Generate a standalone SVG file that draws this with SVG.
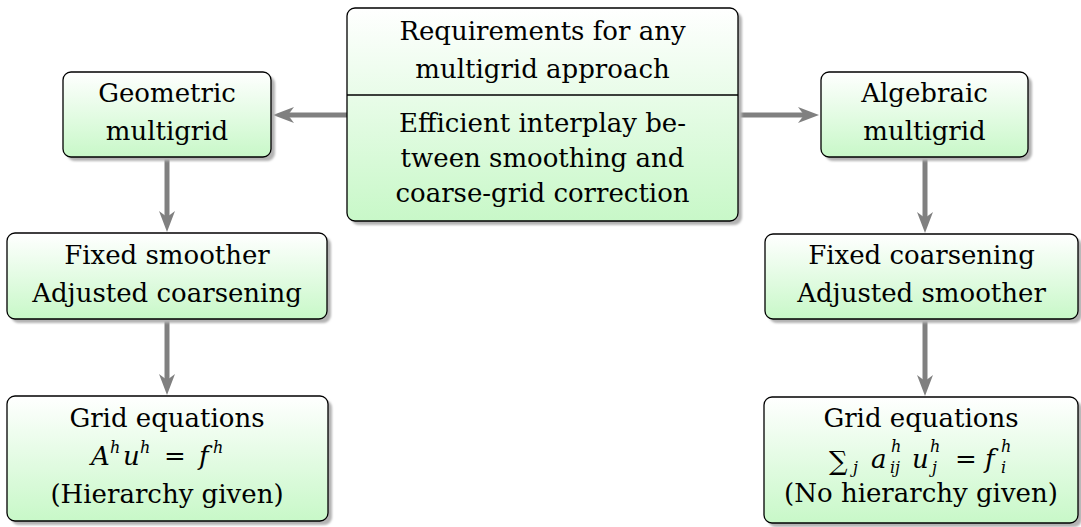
<svg xmlns="http://www.w3.org/2000/svg" width="1081" height="527" viewBox="0 0 1081 527">
<style>
.box{fill:url(#g);stroke:#000;stroke-width:1.3}
.sh{fill:#b3b3b3;filter:url(#blur)}
.t{font-family:"DejaVu Serif","Liberation Serif",serif;font-size:26px;fill:#000;text-anchor:middle}
.m{font-family:"DejaVu Serif","Liberation Serif",serif;font-size:26px;fill:#000;font-style:italic}
.s{font-size:16px}
.c{fill:none;stroke:#808080;stroke-width:5}
</style>
<defs>
<linearGradient id="g" x1="0" y1="0" x2="0" y2="1">
<stop offset="0" stop-color="#ffffff"/>
<stop offset="1" stop-color="#c8f8c8"/>
</linearGradient>
<filter id="blur" x="-10%" y="-10%" width="120%" height="120%"><feGaussianBlur stdDeviation="1"/></filter>
<marker id="ah" markerUnits="userSpaceOnUse" viewBox="-22 -9 24 18" markerWidth="24" markerHeight="18" refX="-15" refY="0" orient="auto">
<path d="M0,0 L-21,-8 L-15,0 L-21,8 Z" fill="#808080"/>
</marker>
</defs>

<g id="connectors">
<line class="c" x1="347" y1="115" x2="288" y2="115" marker-end="url(#ah)"/>
<line class="c" x1="738" y1="115" x2="804" y2="115" marker-end="url(#ah)"/>
<line class="c" x1="167" y1="157" x2="167" y2="217" marker-end="url(#ah)"/>
<line class="c" x1="167" y1="319" x2="167" y2="380" marker-end="url(#ah)"/>
<line class="c" x1="925" y1="157" x2="925" y2="218" marker-end="url(#ah)"/>
<line class="c" x1="925" y1="319" x2="925" y2="381" marker-end="url(#ah)"/>
</g>

<g id="requirements">
<rect class="sh" x="351" y="12" width="391" height="213" rx="8"/>
<rect class="box" x="347" y="8" width="391" height="213" rx="8"/>
<line x1="347" y1="95" x2="738" y2="95" stroke="#000" stroke-width="1.3"/>
<text class="t" x="542.5" y="40">Requirements for any</text>
<text class="t" x="542.5" y="78">multigrid approach</text>
<text class="t" x="542.5" y="132">Efficient interplay be-</text>
<text class="t" x="542.5" y="167">tween smoothing and</text>
<text class="t" x="542.5" y="202">coarse-grid correction</text>
</g>

<g id="geometric">
<rect class="sh" x="67" y="76" width="208" height="85" rx="8"/>
<rect class="box" x="63" y="72" width="208" height="85" rx="8"/>
<text class="t" x="167" y="102">Geometric</text>
<text class="t" x="167" y="140">multigrid</text>
</g>

<g id="algebraic">
<rect class="sh" x="825" y="76" width="207" height="85" rx="8"/>
<rect class="box" x="821" y="72" width="207" height="85" rx="8"/>
<text class="t" x="924.5" y="102">Algebraic</text>
<text class="t" x="924.5" y="140">multigrid</text>
</g>

<g id="fixed-smoother">
<rect class="sh" x="11" y="237" width="320" height="86" rx="8"/>
<rect class="box" x="7" y="233" width="320" height="86" rx="8"/>
<text class="t" x="167" y="264">Fixed smoother</text>
<text class="t" x="167" y="302">Adjusted coarsening</text>
</g>

<g id="fixed-coarsening">
<rect class="sh" x="769" y="238" width="313" height="85" rx="8"/>
<rect class="box" x="765" y="234" width="313" height="85" rx="8"/>
<text class="t" x="921.5" y="264">Fixed coarsening</text>
<text class="t" x="921.5" y="302">Adjusted smoother</text>
</g>

<g id="grid-geometric">
<rect class="sh" x="11" y="400" width="321" height="125" rx="8"/>
<rect class="box" x="7" y="396" width="321" height="125" rx="8"/>
<text class="t" x="167" y="427">Grid equations</text>
<text class="m" x="91" y="465">A</text>
<text class="m s" x="110" y="453">h</text>
<text class="m" x="123" y="465">u</text>
<text class="m s" x="140" y="453">h</text>
<text class="m" font-style="normal" x="164" y="465">=</text>
<text class="m" x="199" y="465">f</text>
<text class="m s" x="213" y="453">h</text>
<text class="t" x="167" y="503">(Hierarchy given)</text>
</g>

<g id="grid-algebraic">
<rect class="sh" x="768" y="401" width="314" height="126" rx="8"/>
<rect class="box" x="764" y="397" width="314" height="126" rx="8"/>
<text class="t" x="921" y="427">Grid equations</text>
<text class="m" font-style="normal" font-size="30" x="829" y="470">∑</text>
<text class="m s" x="853" y="473">j</text>
<text class="m" x="871" y="468">a</text>
<text class="m s" x="891" y="452">h</text>
<text class="m s" x="890" y="473">ij</text>
<text class="m" x="912" y="468">u</text>
<text class="m s" x="930" y="452">h</text>
<text class="m s" x="932" y="473">j</text>
<text class="m" font-style="normal" x="955" y="468">=</text>
<text class="m" x="985" y="468">f</text>
<text class="m s" x="1001" y="452">h</text>
<text class="m s" x="1001" y="473">i</text>
<text class="t" x="921" y="502">(No hierarchy given)</text>
</g>
</svg>
